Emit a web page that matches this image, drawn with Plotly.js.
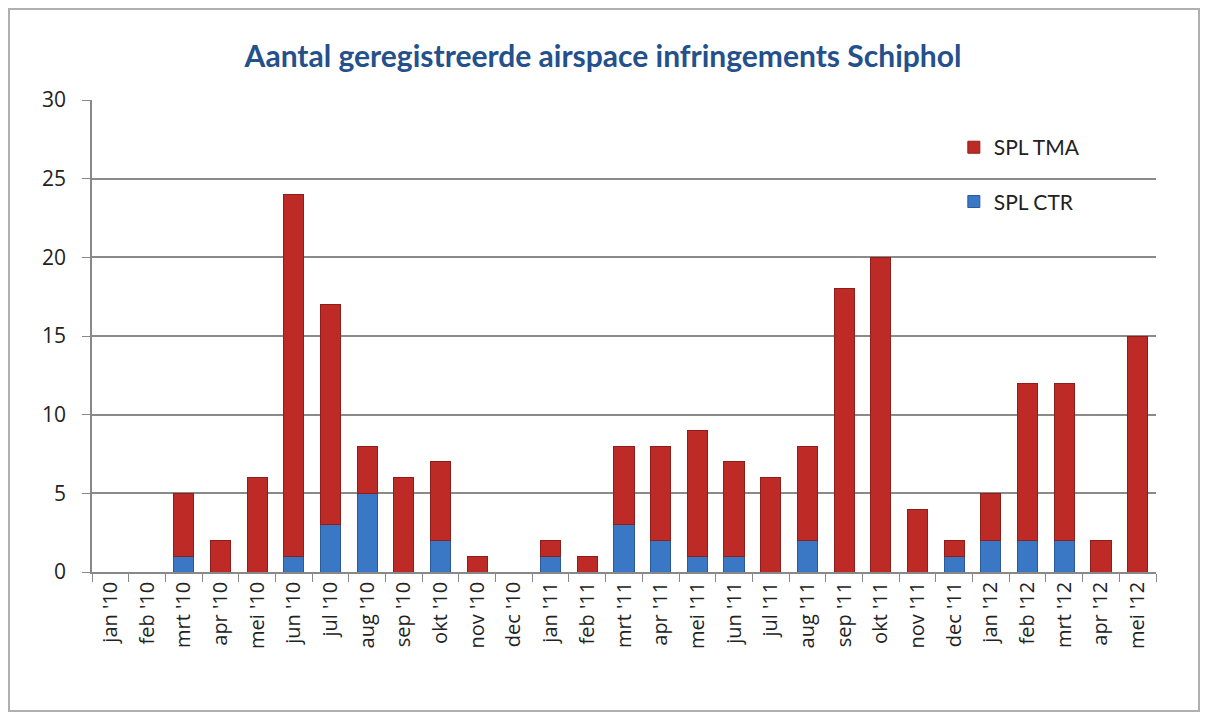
<!DOCTYPE html>
<html><head><meta charset="utf-8">
<script src="https://cdn.plot.ly/plotly-3.0.1.min.js"></script>
<style>html,body{margin:0;padding:0;background:#fff}#frame{position:absolute;left:8px;top:8px;width:1192px;height:704px;border:2px solid #b0b0b0;box-sizing:border-box}#chart{position:absolute;left:0;top:0;width:1206px;height:720px}</style>
</head><body>
<div id="frame"></div>
<div id="chart"></div>
<script>
const months = ["jan '10","feb '10","mrt '10","apr '10","mei '10","jun '10","jul '10","aug '10","sep '10","okt '10","nov '10","dec '10","jan '11","feb '11","mrt '11","apr '11","mei '11","jun '11","jul '11","aug '11","sep '11","okt '11","nov '11","dec '11","jan '12","feb '12","mrt '12","apr '12","mei '12"];
const splCTR = [0,0,1,0,0,1,3,5,0,2,0,0,1,0,3,2,1,1,0,2,0,0,0,1,2,2,2,0,0];
const splTMA = [0,0,4,2,6,23,14,3,6,5,1,0,1,1,5,6,8,6,6,6,18,20,4,1,3,10,10,2,15];
const yTicks = [0,5,10,15,20,25,30];

const traces = [
  {type:'bar', name:'SPL CTR', legendgroup:'ctr', legendrank:2, x:months, y:splCTR, marker:{color:'#3a78c6', line:{color:'#2a5a9a', width:1}}},
  {type:'bar', name:'SPL TMA', legendgroup:'tma', legendrank:1, x:months, y:splTMA, marker:{color:'#be2b27', line:{color:'#8e1e1b', width:1}}}
];
const layout = {
  width:1206, height:720,
  paper_bgcolor:'rgba(0,0,0,0)', plot_bgcolor:'rgba(0,0,0,0)',
  barmode:'stack', bargap:0.45,
  margin:{l:92, r:50, t:100, b:148},
  title:{text:'Aantal geregistreerde airspace infringements Schiphol', x:0.5, xanchor:'center', y:0.922, yanchor:'middle',
    font:{family:'Lato, "Open Sans", sans-serif', size:30, color:'#24508c', weight:'bold'}},
  showlegend:true,
  legend:{x:0.81, y:0.842, xanchor:'left', yanchor:'middle', traceorder:'grouped', bgcolor:'rgba(0,0,0,0)',
    font:{family:'Lato, "Open Sans", sans-serif', size:21, color:'#222'}, itemwidth:30, tracegroupgap:24},
  xaxis:{type:'category', tickangle:-90, tickson:'boundaries', ticks:'outside', ticklen:8, tickcolor:'#888',
    showline:true, linecolor:'#888', linewidth:1.5, showgrid:false,
    tickfont:{family:'"Open Sans", Lato, sans-serif', size:20, color:'#222'}},
  yaxis:{range:[0,30], tickvals:yTicks, ticktext:yTicks.map(String), showgrid:true, gridcolor:'#8a8a8a', gridwidth:1.5,
    showline:true, linecolor:'#888', linewidth:1.5, ticks:'outside', ticklen:8, tickcolor:'#888', zeroline:false,
    ticklabelstandoff:12,
    tickfont:{family:'"Open Sans", Lato, sans-serif', size:21, color:'#222'}}
};
Plotly.newPlot('chart', traces, layout, {displayModeBar:false});
</script>
</body></html>
